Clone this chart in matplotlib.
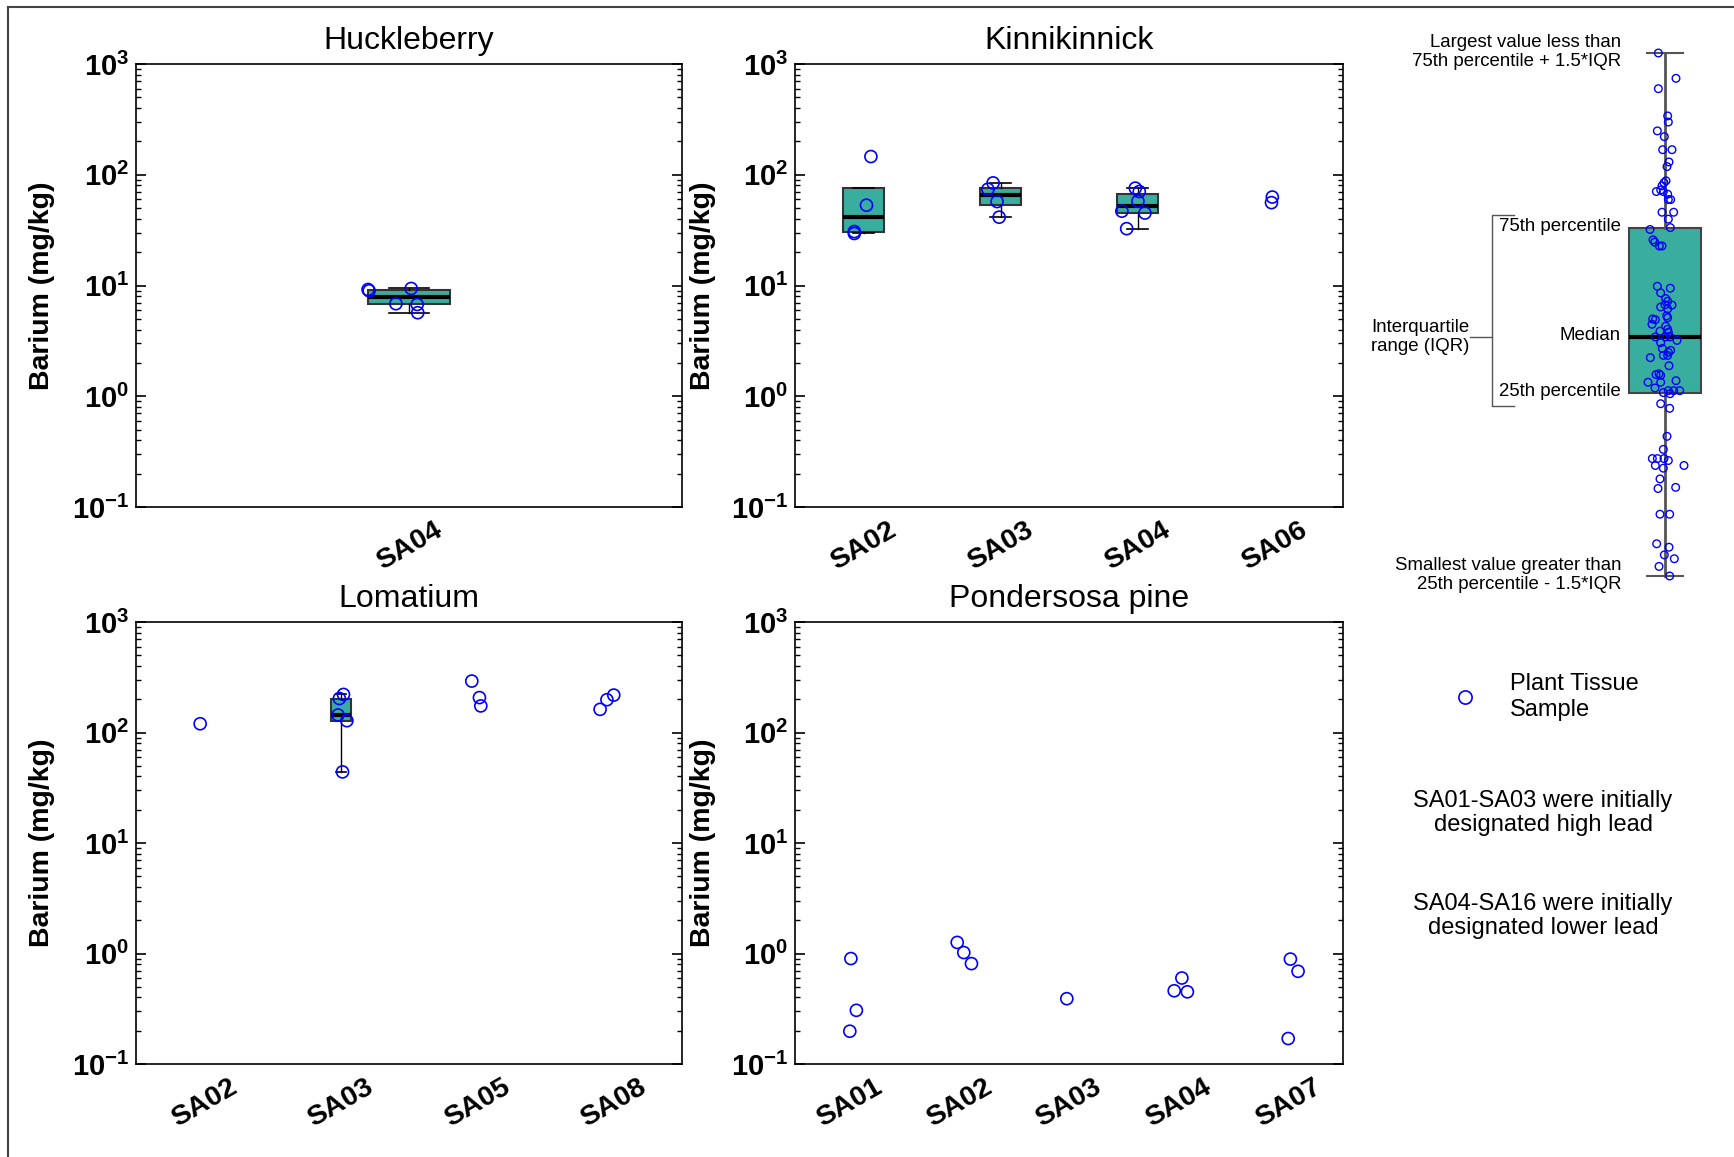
import numpy as np
import matplotlib
matplotlib.use('Agg')
import matplotlib.pyplot as plt
from matplotlib.lines import Line2D
from matplotlib.ticker import LogLocator, FuncFormatter, NullFormatter

plt.rcParams['font.family'] = ['Liberation Sans', 'DejaVu Sans']
plt.rcParams['mathtext.fontset'] = 'custom'
plt.rcParams['mathtext.rm'] = 'Liberation Sans'
plt.rcParams['mathtext.bf'] = 'Liberation Sans:bold'
plt.rcParams['mathtext.it'] = 'Liberation Sans:italic'

BOX_COLOR = '#3aae9e'
PT_COLOR = 'blue'

# barium (mg/kg) per site; jitter = x offset of each circle
huck_sites = ['SA04']
huck_vals = [[9.2, 8.96, 9.4, 6.85, 6.74, 5.68]]
huck_jit = [[-0.075, -0.073, 0.004, -0.024, 0.015, 0.016]]

kinn_sites = ['SA02', 'SA03', 'SA04', 'SA06']
kinn_vals = [[146, 53.1, 30.7, 29.5],
             [84.4, 74.0, 57.3, 41.4],
             [75.7, 70.6, 57.7, 46.9, 45.1, 32.6],
             [62.9, 56.0]]
kinn_jit = [[0.054, 0.022, -0.067, -0.067],
            [-0.054, -0.092, -0.025, -0.01],
            [-0.016, 0.013, 0.003, -0.114, 0.054, -0.079],
            [-0.016, -0.022]]

loma_sites = ['SA02', 'SA03', 'SA05', 'SA08']
loma_vals = [[120], [221, 203, 144, 127.9, 44], [292, 207, 174], [162, 198, 218]]
loma_jit = [[-0.03], [0.02, -0.01, -0.02, 0.045, 0.013], [-0.04, 0.016, 0.026], [-0.1, -0.05, 0.0]]

pond_sites = ['SA01', 'SA02', 'SA03', 'SA04', 'SA07']
pond_vals = [[0.90, 0.306, 0.198], [1.26, 1.02, 0.81], [0.39], [0.60, 0.46, 0.45], [0.89, 0.69, 0.17]]
pond_jit = [[0.01, 0.06, 0.0], [-0.02, 0.04, 0.11], [-0.02], [0.03, -0.04, 0.08], [0.02, 0.09, 0.0]]

# schematic box in the key (arbitrary units)
key_stats = dict(whislo=0, q1=476, med=624, q3=906, whishi=1363)
key_y = [1363, 1297, 1270, 1199, 1183, 1160, 1145, 1111, 1111, 1079, 1067, 1030, 1025, 1017, 1006,
         1002, 1002, 995, 981, 981, 948, 948, 930, 908, 903, 876, 870, 860, 860,
         755, 750, 738, 723, 716, 707, 706, 701, 696, 678, 673, 670, 668, 656, 651, 643, 638, 635,
         623, 623, 623, 614, 608, 593, 588, 583, 575, 575, 569, 548, 527, 525, 523, 509, 505, 505,
         490, 483, 478, 483, 483, 475,
         449, 437, 364, 330, 306, 306, 306, 301, 288, 281, 288, 253, 228, 231, 161, 161, 84, 75,
         55, 45, 25, 0]
key_x = [-20, 33, -20, 8, 10, -23, -2, -7, 21, 12, 6, 3, -3, -9, -13, -26, -5, 8, 10, 17, -9, 26,
         10, 16, -45, -36, -31, -17, -9,
         -23, 16, -13, 2, 8, 0, 21, -13, 8, 5, 8, -37, -29, -39, 2, 8, -15, 10, -29, 2, 15, 36,
         -13, -8, 17, 10, -5, 8, -44, 12, -18, -27, -13, 33, -51, -13, -30, 10, -5, 26, 44, 15,
         -13, 14, 6, -5, -38, -23, -3, 10, -29, -5, 57, -15, -21, 32, -15, 14, -25, 12, -2, 28,
         -18, 14]

W, H = 1734, 1157


def fr(x0, y0, x1, y1):
    # pixel box -> figure fraction
    return [x0 / W, 1 - y1 / H, (x1 - x0) / W, (y1 - y0) / H]


def log_fmt(v, pos):
    return r'$\mathbf{10^{%d}}$' % int(round(np.log10(v)))


def panel(ax, title, sites, vals, jit, box_w, label_x):
    for i, v in enumerate(vals):
        if len(v) >= 4:
            ax.boxplot(v, positions=[i], widths=box_w, patch_artist=True, showfliers=False,
                       boxprops=dict(facecolor=BOX_COLOR, edgecolor='#333333', linewidth=1.5),
                       medianprops=dict(color='black', linewidth=3),
                       whiskerprops=dict(color='black', linewidth=1),
                       capprops=dict(color='black', linewidth=1.2))
        ax.scatter(i + np.array(jit[i]), v, s=75, facecolors='none', edgecolors=PT_COLOR,
                   linewidths=1.2, zorder=3)
    ax.set_yscale('log')
    ax.set_ylim(0.1, 1000)
    ax.set_xlim(-0.5, len(sites) - 0.5)
    ax.set_xticks(np.arange(len(sites)))
    ax.set_xticklabels(sites, rotation=30, fontsize=20.5, fontweight='bold', ha='center')
    ax.yaxis.set_major_locator(LogLocator(base=10, numticks=10))
    ax.yaxis.set_minor_locator(LogLocator(base=10, subs=np.arange(2, 10), numticks=10))
    ax.yaxis.set_major_formatter(FuncFormatter(log_fmt))
    ax.yaxis.set_minor_formatter(NullFormatter())
    ax.tick_params(axis='x', length=0, pad=7)
    ax.tick_params(axis='y', which='major', direction='in', length=7, width=1.2,
                   left=True, right=True, labelsize=21, pad=5)
    ax.tick_params(axis='y', which='minor', direction='in', length=3.6, width=1.0,
                   left=True, right=True)
    for s in ax.spines.values():
        s.set_linewidth(1.2)
    ax.set_title(title, fontsize=23, pad=10.5)
    ax.set_ylabel('Barium (mg/kg)', fontsize=20.5, fontweight='bold', va='center')
    ax.yaxis.set_label_coords(label_x, 0.5)


fig = plt.figure(figsize=(W / 100, H / 100), dpi=100)

ax_h = fig.add_axes(fr(136, 64, 682, 507))
ax_k = fig.add_axes(fr(795, 64, 1343, 507))
ax_l = fig.add_axes(fr(136, 622, 682, 1064))
ax_p = fig.add_axes(fr(795, 622, 1343, 1064))

panel(ax_h, 'Huckleberry', huck_sites, huck_vals, huck_jit, 0.15, -0.172)
panel(ax_k, 'Kinnikinnick', kinn_sites, kinn_vals, kinn_jit, 0.30, -0.168)
panel(ax_l, 'Lomatium', loma_sites, loma_vals, loma_jit, 0.15, -0.172)
panel(ax_p, 'Pondersosa pine', pond_sites, pond_vals, pond_jit, 0.30, -0.168)

# key box plot
ax_key = fig.add_axes(fr(1665 - 43.3, 53, 1665 + 43.3, 576))
ax_key.bxp([key_stats], positions=[0], widths=216, capwidths=110, showfliers=False,
           patch_artist=True,
           boxprops=dict(facecolor=BOX_COLOR, edgecolor='#444444', linewidth=1.5),
           medianprops=dict(color='black', linewidth=3),
           whiskerprops=dict(color='#555555', linewidth=2),
           capprops=dict(color='#555555', linewidth=1.5))
ax_key.scatter(key_x, key_y, s=30, facecolors='none', edgecolors=PT_COLOR, linewidths=1.0,
               zorder=3, clip_on=False)
ax_key.set_xlim(-130, 130)
ax_key.set_ylim(0, 1363)
ax_key.axis('off')
for a in ax_key.get_children():
    if hasattr(a, 'set_clip_on'):
        a.set_clip_on(False)

kw = dict(ha='right', va='center', fontsize=13.4, linespacing=1.15)
ax_key.text(-132, 1366, 'Largest value less than\n75th percentile + 1.5*IQR', **kw)
ax_key.text(-132, 910, '75th percentile', **kw)
ax_key.text(-132, 626, 'Median', **kw)
ax_key.text(-132, 480, '25th percentile', **kw)
ax_key.text(-132, 3, 'Smallest value greater than\n25th percentile - 1.5*IQR', **kw)
ax_key.text(-588, 623, 'Interquartile\nrange (IQR)', multialignment='left', **kw)
ax_key.plot([-453, -519, -519, -453], [940, 940, 444, 444], color='#555555', lw=1, clip_on=False)
ax_key.plot([-585, -519], [623, 623], color='#555555', lw=1, clip_on=False)

# legend and notes
handle = Line2D([], [], marker='o', ls='none', markersize=9.5, markerfacecolor='none',
                markeredgecolor=PT_COLOR, markeredgewidth=1.2)
fig.legend([handle], ['Plant Tissue\nSample'], loc='center left',
           bbox_to_anchor=(1453 / W, 1 - 697 / H), frameon=False, fontsize=17,
           handlelength=1.0, handletextpad=1.4, borderpad=0, borderaxespad=0)
fig.text(1543 / W, 1 - 813 / H, 'SA01-SA03 were initially\ndesignated high lead',
         ha='center', va='center', fontsize=17, linespacing=1.1)
fig.text(1543 / W, 1 - 916 / H, 'SA04-SA16 were initially\ndesignated lower lead',
         ha='center', va='center', fontsize=17, linespacing=1.1)

# page frame (left and top edges)
fig.add_artist(Line2D([8 / W, 8 / W], [0, 1 - 7 / H], transform=fig.transFigure,
                      color='#444444', lw=1.5))
fig.add_artist(Line2D([8 / W, 1], [1 - 7 / H, 1 - 7 / H], transform=fig.transFigure,
                      color='#444444', lw=1.5))

fig.savefig('out.png', dpi=100)
